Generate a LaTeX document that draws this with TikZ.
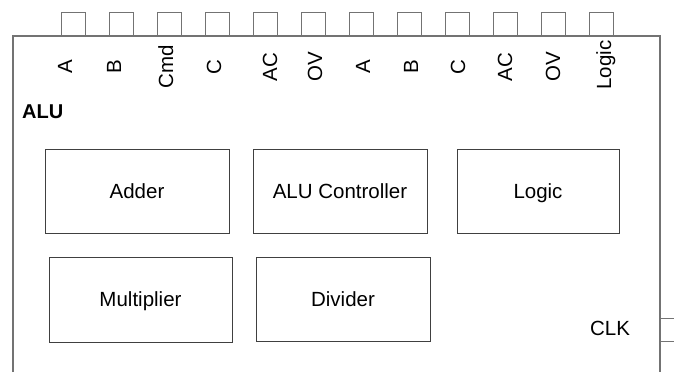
\documentclass[tikz,border=0pt]{standalone}
\usepackage{fontspec}
\setmainfont{Liberation Sans}
\begin{document}
\begin{tikzpicture}[x=1pt,y=-1pt,
  txt/.style={font=\fontsize{20.5}{24}\selectfont},
  frame/.style={draw=black!55,line width=1.3pt},
  pin/.style={draw=black!55,line width=0.9pt},
  block/.style={txt,draw=black!75,line width=0.9pt,rectangle,inner sep=0pt,
    text height=14.7pt,text depth=0pt},
  pinlabel/.style={txt,rotate=90,anchor=base,inner sep=0pt},
  plain/.style={txt,inner sep=0pt}]
\useasboundingbox (0,0) rectangle (674,372);

% outer ALU frame (open at the bottom)
\draw[frame] (13,372) -- (13,36) -- (660,36) -- (660,372);

% input/output pins along the top edge
\foreach \px in {61,109,157,205,253,301,349,397,445,493,541,589}
  \draw[pin] (\px,36) -- (\px,12) -- (\px+24,12) -- (\px+24,36);

% clock pin on the right edge
\draw[pin] (660,318) -- (684,318) -- (684,341) -- (660,341);

% pin labels
\node[pinlabel] (lA1)   at (72,67)  {A};
\node[pinlabel] (lB1)   at (121,67) {B};
\node[pinlabel] (lCmd)  at (173,67) {Cmd};
\node[pinlabel] (lC1)   at (221,67) {C};
\node[pinlabel] (lAC1)  at (277,67) {AC};
\node[pinlabel] (lOV1)  at (322,67) {OV};
\node[pinlabel] (lA2)   at (370,67) {A};
\node[pinlabel] (lB2)   at (418,67) {B};
\node[pinlabel] (lC2)   at (465,67) {C};
\node[pinlabel] (lAC2)  at (512,67) {AC};
\node[pinlabel] (lOV2)  at (560,67) {OV};
\node[pinlabel] (lLog)  at (611,65) {Logic};

% title
\node[plain,anchor=base west,font=\fontsize{20}{24}\selectfont\bfseries] (title) at (22,118) {ALU};

% functional blocks
\node[block,minimum width=184pt,minimum height=84pt] (adder) at (137,191) {Adder};
\node[block,minimum width=174pt,minimum height=84pt] (ctrl)  at (340,191) {ALU Controller};
\node[block,minimum width=162pt,minimum height=84pt] (logic) at (538,191) {Logic};
\node[block,minimum width=183pt,minimum height=85pt] (mult)  at (140.5,299.5) {Multiplier};
\node[block,minimum width=174pt,minimum height=84pt] (div)   at (343,299) {Divider};

% clock label
\node[plain,anchor=base] (clk) at (610,335) {CLK};
\end{tikzpicture}
\end{document}
